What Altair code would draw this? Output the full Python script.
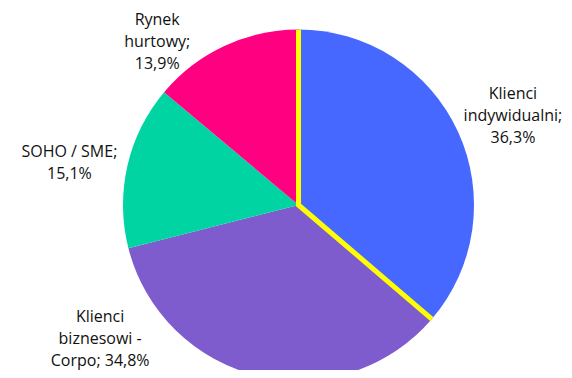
import math
import altair as alt
import pandas as pd

categories = ["Klienci indywidualni", "Klienci biznesowi - Corpo", "SOHO / SME", "Rynek hurtowy"]
shares = [36.3, 34.8, 15.1, 13.9]
label_lines = [
    ["Klienci", "indywidualni;", "36,3%"],
    ["Klienci", "biznesowi -", "Corpo; 34,8%"],
    ["SOHO / SME;", "15,1%"],
    ["Rynek", "hurtowy;", "13,9%"],
]
colors = ["#4668FF", "#7E5CCD", "#00D4A2", "#FF0080"]

total = sum(shares)
df = pd.DataFrame({
    "cat": categories,
    "share": shares,
    "idx": list(range(len(categories))),
    "label": ["\n".join(l) for l in label_lines],
})

R = 175.5
theta_scale = alt.Scale(domain=[0, total], range=[0, 2 * math.pi])
base = alt.Chart(df)

pie = base.mark_arc(radius=R, stroke=None).encode(
    theta=alt.Theta("share:Q", stack=True, scale=theta_scale),
    order=alt.Order("idx:Q", sort="ascending"),
    color=alt.Color("cat:N", scale=alt.Scale(domain=categories, range=colors), legend=None),
)

# yellow separators along the two radial edges of the first slice
arc_len = R * 2 * math.pi * shares[0] / total
edges = base.mark_arc(
    radius=R, filled=False, stroke="#FFFF00", strokeWidth=5,
    strokeDash=[0, arc_len, 2 * R + 10],
).encode(
    theta=alt.Theta("share:Q", stack=True, scale=theta_scale),
    order=alt.Order("idx:Q", sort="ascending"),
    strokeOpacity=alt.condition(alt.datum.idx == 0, alt.value(1), alt.value(0)),
)

offsets = [(1, -13), (-145, -117), (0, -1), (-42, 28)]
texts = []
for i, (dx, dy) in enumerate(offsets):
    t = base.transform_window(
        cum="sum(share)", sort=[alt.SortField("idx", order="ascending")]
    ).transform_calculate(
        mid="datum.cum - datum.share / 2"
    ).transform_filter(alt.datum.idx == i).mark_text(
        radius=235, dx=dx, dy=dy, align="center", baseline="middle",
        lineBreak="\n", lineHeight=22, font="Open Sans", fontSize=16, color="#111111",
    ).encode(
        theta=alt.Theta("mid:Q", stack=None, scale=theta_scale),
        text="label:N",
    )
    texts.append(t)

chart = alt.layer(pie, edges, *texts).properties(
    width=531, height=330, autosize="none",
    padding={"left": 25, "top": 32, "right": 0, "bottom": 0},
).configure_view(stroke=None)

chart.save("out.html", embed_options={"renderer": "svg", "actions": False})
